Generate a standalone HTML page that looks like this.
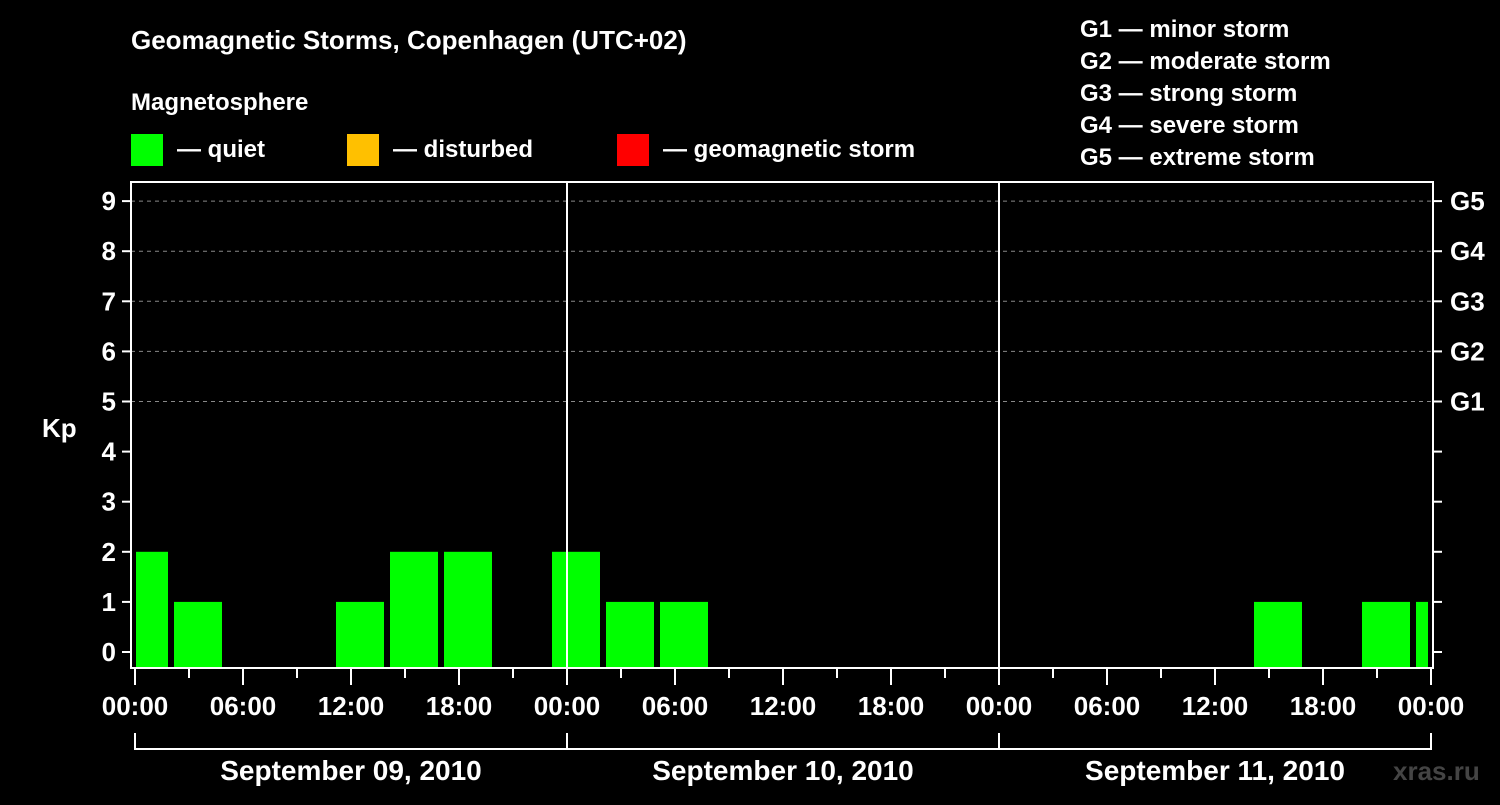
<!DOCTYPE html>
<html><head><meta charset="utf-8"><style>
html,body{margin:0;padding:0;background:#000;}
svg text{font-family:"Liberation Sans",Arial,sans-serif;font-weight:bold;fill:#fff;}
</style></head><body>
<svg id="chart" width="1500" height="800" xmlns="http://www.w3.org/2000/svg">
<rect width="1500" height="800" fill="#000"/>
<text x="131" y="49" font-size="26">Geomagnetic Storms, Copenhagen (UTC+02)</text>
<text x="131" y="110" font-size="24">Magnetosphere</text>
<g><rect x="131" y="134" width="32" height="32" fill="#00ff00"/><text x="177" y="157" font-size="24">— quiet</text></g>
<g><rect x="347" y="134" width="32" height="32" fill="#ffc000"/><text x="393" y="157" font-size="24">— disturbed</text></g>
<g><rect x="617" y="134" width="32" height="32" fill="#ff0000"/><text x="663" y="157" font-size="24">— geomagnetic storm</text></g>
<g font-size="24">
<text x="1080" y="37">G1 — minor storm</text>
<text x="1080" y="69">G2 — moderate storm</text>
<text x="1080" y="101">G3 — strong storm</text>
<text x="1080" y="133">G4 — severe storm</text>
<text x="1080" y="165">G5 — extreme storm</text>
</g>
<text x="42" y="437" font-size="26">Kp</text>
<text x="1393" y="780" font-size="26" style="fill:#444">xras.ru</text>
<g id="grid"></g><g id="bars"></g><g id="axes"></g>
</svg>
<script>
const slotStartHours=[-1,2,5,8,11,14,17,20,23,26,29,32,35,38,41,44,47,50,53,56,59,62,65,68,71];
const kpValues=[2,1,0,0,1,2,2,0,2,1,1,0,0,0,0,0,0,0,0,0,0,1,0,1,1];
const yTickLabels=["0","1","2","3","4","5","6","7","8","9"];
const gLabels=["G1","G2","G3","G4","G5"];
const xTickLabels=["00:00","06:00","12:00","18:00"];
const dayLabels=["September 09, 2010","September 10, 2010","September 11, 2010"];
const NS="http://www.w3.org/2000/svg";
const X0=135,PXH=18,Y0=652,PYU=50.1,L=131,R=1433,T=182,B=668;
const x=h=>X0+h*PXH, y=v=>Y0-v*PYU;
function el(t,a,p){const e=document.createElementNS(NS,t);for(const k in a)e.setAttribute(k,a[k]);p.appendChild(e);return e;}
const grid=document.getElementById('grid'),bars=document.getElementById('bars'),axes=document.getElementById('axes');
for(let v=5;v<=9;v++){const g=el('line',{x1:L,x2:R,y1:y(v),y2:y(v),stroke:'#888','stroke-dasharray':'4,4','stroke-width':1},grid);

}
kpValues.forEach((v,i)=>{if(v<=0)return;
let a=Math.max(x(slotStartHours[i])+3,L+5),b=Math.min(x(slotStartHours[i]+3)-3,R-5);
const r=el('rect',{x:a,y:y(v),width:b-a,height:B-1-y(v),fill:'#00ff00'},bars);

});
const f=el('rect',{x:L,y:T,width:R-L,height:B-T,fill:'none',stroke:'#fff','stroke-width':2},axes);


for(let d=1;d<3;d++){const l=el('line',{x1:x(24*d),x2:x(24*d),y1:T,y2:B,stroke:'#fff','stroke-width':2},axes);

}
yTickLabels.forEach((s,v)=>{el('line',{x1:122,x2:L,y1:y(v),y2:y(v),stroke:'#fff','stroke-width':2},axes);
el('line',{x1:R,x2:1442,y1:y(v),y2:y(v),stroke:'#fff','stroke-width':2},axes);
const t=el('text',{x:116,y:y(v)+9,'font-size':26,'text-anchor':'end'},axes);t.textContent=s;

});
gLabels.forEach((s,i)=>{const t=el('text',{x:1450,y:y(5+i)+9,'font-size':26},axes);t.textContent=s;

});
for(let h=0;h<=72;h+=3){const major=h%6===0;el('line',{x1:x(h),x2:x(h),y1:B,y2:major?685:678,stroke:'#fff','stroke-width':2},axes);
if(major){const t=el('text',{x:x(h),y:715,'font-size':26,'text-anchor':'middle'},axes);t.textContent=xTickLabels[(h%24)/6];

}}
el('line',{x1:x(0),x2:x(72),y1:749,y2:749,stroke:'#fff','stroke-width':2},axes);
for(let d=0;d<=3;d++)el('line',{x1:x(24*d),x2:x(24*d),y1:733,y2:750,stroke:'#fff','stroke-width':2},axes);
dayLabels.forEach((s,d)=>{const t=el('text',{x:x(24*d+12),y:780,'font-size':28,'text-anchor':'middle'},axes);t.textContent=s;

});
</script>
</body></html>
